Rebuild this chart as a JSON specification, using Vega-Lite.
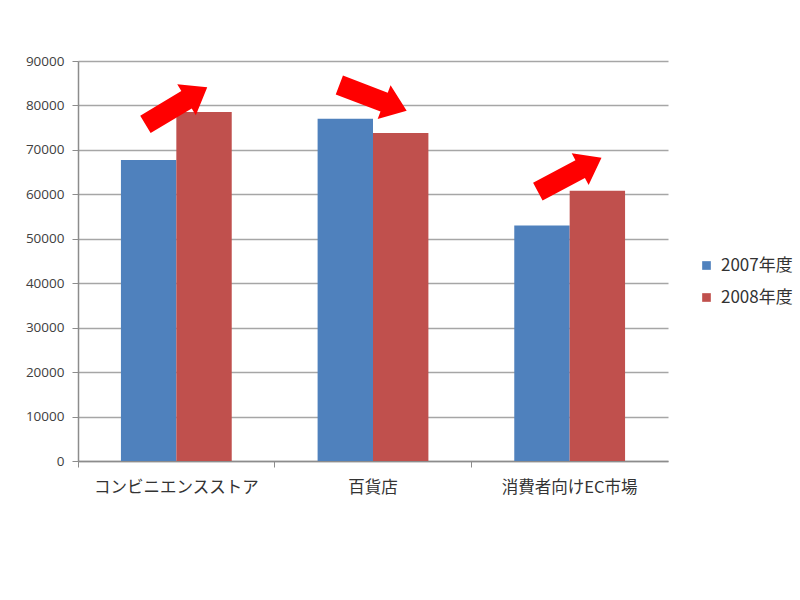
{
  "$schema": "https://vega.github.io/schema/vega-lite/v6.json",
  "width": 590,
  "height": 400,
  "autosize": "none",
  "padding": {"left": 78, "top": 61, "right": 132, "bottom": 139},
  "background": "white",
  "config": {"view": {"stroke": null}},
  "datasets": {
    "sales": [
      {"category": "コンビニエンスストア", "series": "2007年度", "value": 67700},
      {"category": "コンビニエンスストア", "series": "2008年度", "value": 78500},
      {"category": "百貨店", "series": "2007年度", "value": 77000},
      {"category": "百貨店", "series": "2008年度", "value": 73800},
      {"category": "消費者向けEC市場", "series": "2007年度", "value": 53000},
      {"category": "消費者向けEC市場", "series": "2008年度", "value": 60800}
    ],
    "arrows": [
      {"category": "コンビニエンスストア", "value": 79900, "angle": -31},
      {"category": "百貨店", "value": 81700, "angle": 21},
      {"category": "消費者向けEC市場", "value": 64400, "angle": -28}
    ]
  },
  "layer": [
    {
      "data": {"name": "sales"},
      "mark": {"type": "bar"},
      "encoding": {
        "x": {
          "field": "category",
          "type": "nominal",
          "sort": null,
          "scale": {"paddingInner": 0, "paddingOuter": 0},
          "axis": {
            "title": null,
            "labelAngle": 0,
            "bandPosition": 0,
            "labelFont": "Noto Sans CJK JP",
            "labelFontSize": 16.5,
            "labelColor": "#333333",
            "labelPadding": 12,
            "tickSize": 6,
            "tickColor": "#8c8c8c",
            "domainColor": "#8c8c8c",
            "domainWidth": 1.5,
            "grid": false
          }
        },
        "xOffset": {
          "field": "series",
          "type": "nominal",
          "scale": {"paddingInner": 0, "paddingOuter": 0.775}
        },
        "y": {
          "field": "value",
          "type": "quantitative",
          "scale": {"domain": [0, 90000], "nice": false},
          "axis": {
            "title": null,
            "values": [0, 10000, 20000, 30000, 40000, 50000, 60000, 70000, 80000, 90000],
            "format": "d",
            "labelFont": "Open Sans",
            "labelFontSize": 13.5,
            "labelColor": "#404040",
            "labelPadding": 8,
            "tickSize": 6,
            "tickColor": "#8c8c8c",
            "domainColor": "#8c8c8c",
            "domainWidth": 1.5,
            "gridColor": "#a6a6a6",
            "gridWidth": 1.5
          }
        },
        "color": {
          "field": "series",
          "type": "nominal",
          "scale": {"domain": ["2007年度", "2008年度"], "range": ["#4F81BD", "#C0504D"]},
          "legend": {
            "title": null,
            "orient": "none",
            "legendX": 620,
            "legendY": 196,
            "symbolType": "square",
            "symbolSize": 75,
            "symbolStrokeWidth": 0,
            "labelFont": "Noto Sans CJK JP",
            "labelFontSize": 17,
            "labelColor": "#333333",
            "rowPadding": 14,
            "labelOffset": 6
          }
        }
      }
    },
    {
      "data": {"name": "arrows"},
      "mark": {
        "type": "point",
        "filled": true,
        "color": "#FF0000",
        "opacity": 1,
        "size": 5200,
        "dx": -7,
        "shape": "M-1,-0.28 L0.33,-0.28 L0.33,-0.5 L1,0 L0.33,0.5 L0.33,0.28 L-1,0.28 Z"
      },
      "encoding": {
        "x": {"field": "category", "type": "nominal", "sort": null},
        "y": {"field": "value", "type": "quantitative"},
        "angle": {"field": "angle", "type": "quantitative", "scale": null}
      }
    }
  ]
}
